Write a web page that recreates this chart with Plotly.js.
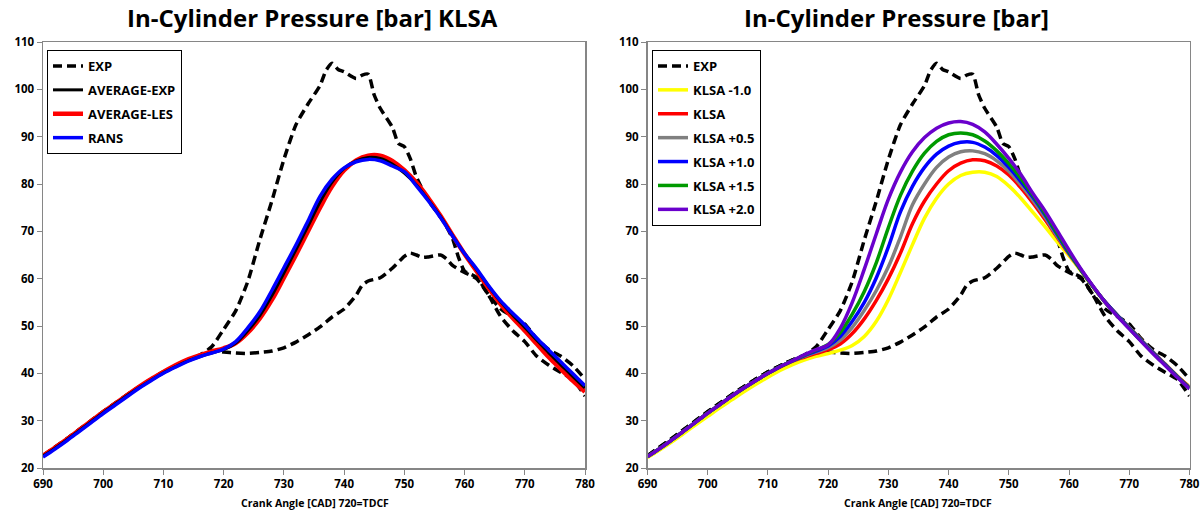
<!DOCTYPE html>
<html>
<head>
<meta charset="utf-8">
<script src="https://cdn.plot.ly/plotly-3.0.1.min.js"></script>
<style>html,body{margin:0;padding:0;background:#fff;}#chart{width:1201px;height:514px;}</style>
</head>
<body>
<div id="chart"></div>
<script>
// ---------- DATA ----------
var expHighCad = [690,692,694,696,698,700,702,704,706,708,710,712,714,716,718,720,722,724,726,728,730,732,734,736,737,738,739,740,742,743,744,745,746,748,749,750,751,752,754,756,757,758,759,760,762,764,766,768,770,772,774,776,778,780];
var expHigh    = [22.6,24.4,26.2,28.1,30.0,31.9,33.7,35.5,37.2,38.8,40.3,41.6,42.8,43.8,45.6,49.3,53.2,59.4,68.2,76.4,85.2,92.5,96.9,100.8,104.0,105.5,104.2,103.7,102.3,103.0,103.2,98.8,96.0,92.0,88.6,87.9,85.3,81.5,76.5,73.0,71.0,68.5,64.5,61.6,60.3,56.5,52.0,49.0,46.7,43.6,41.7,40.2,38.7,35.2];

var expLowCad  = [690,692,694,696,698,700,702,704,706,708,710,712,714,716,718,720,722,724,726,728,730,732,734,736,738,740,742,743,744,746,748,750,751,752,753,754,756,757,758,760,762,764,766,768,770,772,774,776,778,780];
var expLow     = [22.6,24.4,26.2,28.1,30.0,31.9,33.7,35.5,37.2,38.8,40.3,41.6,42.8,43.8,44.8,44.5,44.3,44.2,44.4,44.7,45.4,46.6,48.1,49.8,51.9,53.6,56.5,58.6,59.5,60.2,62.2,64.7,65.4,65.0,64.5,64.6,65.0,64.2,62.8,61.3,60.0,56.6,53.6,52.0,50.4,47.3,45.0,43.6,41.6,38.8];

var simCad = [690,692,694,696,698,700,702,704,706,708,710,712,714,716,718,720,722,724,726,728,730,732,734,736,738,740,742,744,746,748,750,752,754,756,758,760,762,764,766,768,770,772,774,776,778,780];

var averageExp = [22.5,24.2,26.0,27.9,29.8,31.7,33.5,35.3,37.0,38.6,40.1,41.4,42.6,43.5,44.3,45.0,46.4,49.0,52.2,56.4,61.2,66.1,71.1,76.2,80.4,83.3,84.9,85.6,85.4,84.2,82.3,79.8,76.6,73.1,69.1,65.3,61.9,58.4,55.1,52.3,49.7,47.0,44.3,41.8,39.3,36.9];
var averageLes = [22.6,24.3,26.1,28.0,29.9,31.8,33.6,35.4,37.2,38.8,40.3,41.7,42.9,43.8,44.6,45.3,46.4,48.6,51.6,55.5,60.2,65.0,70.0,75.0,79.5,82.9,85.0,86.0,86.0,84.9,82.9,80.3,77.0,73.3,69.2,65.2,61.6,58.0,54.6,51.7,49.0,46.2,43.4,40.9,38.4,36.1];
var rans       = [22.3,24.0,25.8,27.7,29.6,31.5,33.3,35.1,36.9,38.5,40.0,41.3,42.5,43.5,44.3,45.1,46.7,49.6,53.0,57.5,62.3,67.1,72.2,77.4,81.0,83.4,84.7,85.2,84.9,83.8,82.6,79.6,76.4,72.9,69.0,65.3,62.1,58.5,55.3,52.7,50.2,47.4,44.9,42.4,39.9,37.4];

var klsaM10 = [22.2,23.8,25.5,27.3,29.1,30.9,32.7,34.4,36.1,37.7,39.2,40.6,41.8,42.8,43.6,44.2,44.9,45.9,47.8,51.0,55.6,61.3,67.2,72.8,77.0,80.0,81.8,82.5,82.5,81.6,79.6,77.0,74.0,71.0,67.8,64.8,61.6,58.2,55.0,52.2,49.6,47.0,44.4,41.9,39.4,37.2];
var klsa    = [22.4,24.1,25.9,27.8,29.7,31.6,33.4,35.2,36.9,38.5,40.0,41.3,42.5,43.4,44.2,45.0,46.2,48.4,51.5,55.4,60.0,65.4,71.6,76.4,80.0,82.8,84.4,85.1,84.9,83.8,81.9,79.2,76.0,72.5,68.8,65.2,61.8,58.3,55.1,52.3,49.7,47.0,44.4,41.9,39.4,37.1];
var klsaP05 = [22.4,24.1,25.9,27.8,29.7,31.6,33.4,35.2,36.9,38.5,40.0,41.4,42.6,43.6,44.5,45.4,47.0,49.7,53.3,57.5,62.5,68.8,75.6,80.0,83.5,85.7,86.8,87.0,86.4,84.9,82.7,79.8,76.6,73.0,69.0,65.3,61.8,58.3,55.1,52.3,49.7,47.0,44.4,41.8,39.3,37.0];
var klsaP10 = [22.4,24.1,25.9,27.8,29.7,31.6,33.4,35.2,36.9,38.5,40.0,41.4,42.6,43.7,44.7,45.8,47.8,51.0,55.0,60.2,66.7,74.1,79.5,83.5,86.3,88.0,88.8,88.8,87.8,86.0,83.5,80.5,77.2,73.5,69.4,65.4,61.8,58.3,55.1,52.3,49.6,46.9,44.3,41.8,39.3,36.9];
var klsaP15 = [22.4,24.1,25.9,27.8,29.7,31.6,33.4,35.2,36.9,38.5,40.0,41.4,42.6,43.8,44.9,46.1,48.6,52.5,57.3,63.4,70.8,77.6,82.7,86.5,89.0,90.4,90.8,90.4,89.1,87.0,84.3,81.2,77.6,73.8,69.7,65.6,61.8,58.3,55.0,52.2,49.5,46.8,44.2,41.7,39.2,36.8];
var klsaP20 = [22.4,24.1,25.9,27.8,29.7,31.6,33.4,35.2,36.9,38.5,40.0,41.4,42.6,43.9,45.0,46.0,49.5,55.0,62.0,69.5,76.8,82.5,86.8,89.8,91.8,92.9,93.2,92.6,91.0,88.4,85.4,82.0,78.0,74.3,70.2,66.0,62.0,58.4,55.0,52.1,49.4,46.7,44.1,41.6,39.1,36.7];

var xTicks = [690,700,710,720,730,740,750,760,770,780];
var yTicks = [20,30,40,50,60,70,80,90,100,110];

// ---------- STYLE ----------
var W = 1201, H = 514;
var FONT = "Open Sans, Liberation Sans, sans-serif";
var expLine = {color:'#000000', width:3.5, dash:'9px,5px', shape:'spline', smoothing:0.6};
function sl(color, width){ return {color:color, width:width, shape:'spline', smoothing:1}; }

var traces = [
  // left
  {x:expHighCad, y:expHigh, mode:'lines', name:'EXP', line:expLine, legendgroup:'a1', legendrank:1, xaxis:'x', yaxis:'y', legend:'legend'},
  {x:expLowCad, y:expLow, mode:'lines', name:'EXP', line:expLine, showlegend:false, legendgroup:'a1', xaxis:'x', yaxis:'y', legend:'legend'},
  {x:simCad, y:averageLes, mode:'lines', name:'AVERAGE-LES', line:sl('#FF0000',4.5), legendgroup:'a3', legendrank:3, xaxis:'x', yaxis:'y', legend:'legend'},
  {x:simCad, y:averageExp, mode:'lines', name:'AVERAGE-EXP', line:sl('#000000',3), legendgroup:'a2', legendrank:2, xaxis:'x', yaxis:'y', legend:'legend'},
  {x:simCad, y:rans, mode:'lines', name:'RANS', line:sl('#0000FF',3.5), legendgroup:'a4', legendrank:4, xaxis:'x', yaxis:'y', legend:'legend'},
  // right
  {x:expHighCad, y:expHigh, mode:'lines', name:'EXP', line:expLine, legendgroup:'b1', xaxis:'x2', yaxis:'y2', legend:'legend2'},
  {x:expLowCad, y:expLow, mode:'lines', name:'EXP', line:expLine, showlegend:false, legendgroup:'b1', xaxis:'x2', yaxis:'y2', legend:'legend2'},
  {x:simCad, y:klsaM10, mode:'lines', name:'KLSA -1.0', line:sl('#FFFF00',3.5), legendgroup:'b2', xaxis:'x2', yaxis:'y2', legend:'legend2'},
  {x:simCad, y:klsa, mode:'lines', name:'KLSA', line:sl('#FF0000',3.5), legendgroup:'b3', xaxis:'x2', yaxis:'y2', legend:'legend2'},
  {x:simCad, y:klsaP05, mode:'lines', name:'KLSA +0.5', line:sl('#808080',3.5), legendgroup:'b4', xaxis:'x2', yaxis:'y2', legend:'legend2'},
  {x:simCad, y:klsaP10, mode:'lines', name:'KLSA +1.0', line:sl('#0000FF',3.5), legendgroup:'b5', xaxis:'x2', yaxis:'y2', legend:'legend2'},
  {x:simCad, y:klsaP15, mode:'lines', name:'KLSA +1.5', line:sl('#009A00',3.5), legendgroup:'b6', xaxis:'x2', yaxis:'y2', legend:'legend2'},
  {x:simCad, y:klsaP20, mode:'lines', name:'KLSA +2.0', line:sl('#6A00CC',3.5), legendgroup:'b7', xaxis:'x2', yaxis:'y2', legend:'legend2'}
];

function xax(domain, anchor){
  return {domain:domain, anchor:anchor, range:[690,780], tickvals:xTicks, ticktext:xTicks.map(String),
    showgrid:false, zeroline:false, showline:true, mirror:true, linecolor:'#868686', linewidth:1.5,
    ticks:'outside', ticklen:5, tickcolor:'#868686', tickwidth:1,
    tickfont:{family:FONT, size:11.5, color:'#000', weight:'bold'}};
}
function yax(domain, anchor){
  return {domain:domain, anchor:anchor, range:[20,110], tickvals:yTicks, ticktext:yTicks.map(String),
    showgrid:false, zeroline:false, showline:true, mirror:true, linecolor:'#868686', linewidth:1.5,
    ticks:'outside', ticklen:5, tickcolor:'#868686', tickwidth:1,
    tickfont:{family:FONT, size:11.5, color:'#000', weight:'bold'}};
}
var yDom = [(H-468)/H, (H-42)/H];
var legendBase = {bgcolor:'#ffffff', bordercolor:'#000000', borderwidth:1, xanchor:'left', yanchor:'top',
  font:{family:FONT, size:13, color:'#000', weight:'bold'}, tracegroupgap:4, itemwidth:30, traceorder:'grouped'};

var layout = {
  width:W, height:H, margin:{l:0,r:0,t:0,b:0}, paper_bgcolor:'#fff', plot_bgcolor:'#fff',
  xaxis: xax([43/W, 585/W], 'y'),
  yaxis: yax(yDom, 'x'),
  xaxis2: xax([647.5/W, 1189.5/W], 'y2'),
  yaxis2: yax(yDom, 'x2'),
  legend: Object.assign({}, legendBase, {x:47/W, y:1-50/H}),
  legend2: Object.assign({}, legendBase, {x:652/W, y:1-50/H}),
  annotations:[
    {text:'In-Cylinder Pressure [bar] KLSA', xref:'paper', yref:'paper', x:312/W, y:1-18/H, xanchor:'center', yanchor:'middle', showarrow:false,
     font:{family:FONT, size:24, color:'#000', weight:'bold'}},
    {text:'In-Cylinder Pressure [bar]', xref:'paper', yref:'paper', x:896/W, y:1-18/H, xanchor:'center', yanchor:'middle', showarrow:false,
     font:{family:FONT, size:24, color:'#000', weight:'bold'}},
    {text:'Crank Angle [CAD] 720=TDCF', xref:'paper', yref:'paper', x:315/W, y:1-503/H, xanchor:'center', yanchor:'middle', showarrow:false,
     font:{family:FONT, size:10.5, color:'#000', weight:'bold'}},
    {text:'Crank Angle [CAD] 720=TDCF', xref:'paper', yref:'paper', x:918/W, y:1-503/H, xanchor:'center', yanchor:'middle', showarrow:false,
     font:{family:FONT, size:10.5, color:'#000', weight:'bold'}}
  ],
  showlegend:true
};

Plotly.newPlot('chart', traces, layout, {displayModeBar:false, staticPlot:true});
</script>
</body>
</html>
